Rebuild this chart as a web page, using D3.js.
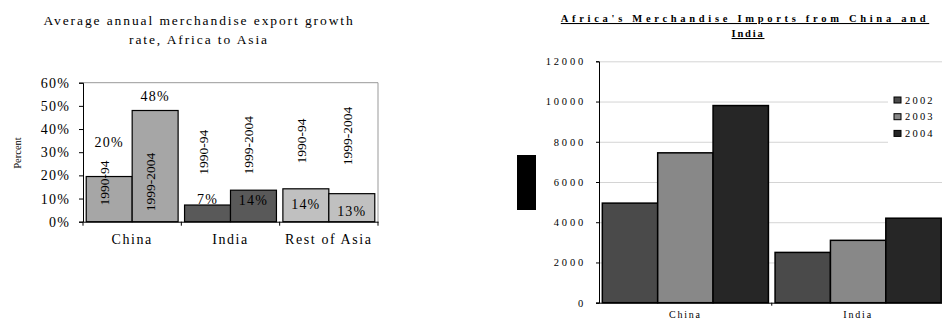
<!DOCTYPE html>
<html>
<head>
<meta charset="utf-8">
<script src="https://cdn.jsdelivr.net/npm/d3@7"></script>
<style>
  body { margin: 0; background: #fff; }
  svg { display: block; }
  text { font-family: 'Liberation Serif', 'Times New Roman', serif; fill: #000; }
</style>
</head>
<body>
<div id="chart"></div>
<script>
// left chart data: export growth, Africa to Asia (percent)
const regions = ['China', 'India', 'Rest of Asia']
const periods = ['1990-94', '1999-2004']
const growth9094 = [19.5, 7.2, 14.2]
const growth9904 = [48, 13.6, 12.1]
const growthLabels9094 = ['20%', '7%', '14%']
const growthLabels9904 = ['48%', '14%', '13%']
const growthTicks = [0, 10, 20, 30, 40, 50, 60]

// right chart data: imports from China and India
const partners = ['China', 'India']
const years = ['2002', '2003', '2004']
const imports2002 = [4950, 2500]
const imports2003 = [7450, 3100]
const imports2004 = [9800, 4200]
const importTicks = [0, 2000, 4000, 6000, 8000, 10000, 12000]

const svg = d3
  .select('#chart')
  .append('svg')
  .attr('width', 942)
  .attr('height', 321)

/* ---------- left chart ---------- */
const left = { x0: 83, x1: 378, y0: 82.7, y1: 221.7 }

const regionScale = d3.scaleBand().domain(regions).range([left.x0, left.x1])
const periodScale = d3
  .scaleBand()
  .domain(periods)
  .range([0, regionScale.bandwidth()])
  .paddingOuter(0.07)
const growthScale = d3.scaleLinear().domain([0, 60]).range([left.y1, left.y0])
const regionColor = d3.scaleOrdinal().domain(regions).range(['#a6a6a6', '#595959', '#c0c0c0'])

const growthRows = []
regions.forEach((r, i) => {
  growthRows.push({ region: r, period: periods[0], value: growth9094[i], label: growthLabels9094[i] })
  growthRows.push({ region: r, period: periods[1], value: growth9904[i], label: growthLabels9904[i] })
})

// where the hand-placed labels sit, in percent units
const valueLabelAt = [34.4, 54.2, 9.8, 9.4, 7.6, 4.6]
const periodLabelAt = [16.7, 17.1, 30, 33, 34.8, 37]

const gl = svg.append('g')

gl.append('text')
  .attr('x', 199)
  .attr('y', 25)
  .attr('text-anchor', 'middle')
  .style('font-size', '13.5px')
  .style('letter-spacing', '1.9px')
  .text('Average annual merchandise export growth')
gl.append('text')
  .attr('x', 199)
  .attr('y', 44)
  .attr('text-anchor', 'middle')
  .style('font-size', '13.5px')
  .style('letter-spacing', '1.9px')
  .text('rate, Africa to Asia')

// frame top and right
gl.append('path')
  .attr('d', `M${left.x0},${left.y0}H${left.x1}V${left.y1}`)
  .attr('fill', 'none')
  .attr('stroke', '#999')

gl.selectAll('rect.bar')
  .data(growthRows)
  .enter()
  .append('rect')
  .attr('class', 'bar')
  .attr('x', d => regionScale(d.region) + periodScale(d.period))
  .attr('y', d => growthScale(d.value))
  .attr('width', periodScale.bandwidth())
  .attr('height', d => growthScale(0) - growthScale(d.value))
  .attr('fill', d => regionColor(d.region))
  .attr('stroke', '#000')
  .attr('stroke-width', 1.2)

gl.selectAll('text.val')
  .data(growthRows)
  .enter()
  .append('text')
  .attr('class', 'val')
  .attr('x', d => regionScale(d.region) + periodScale(d.period) + periodScale.bandwidth() / 2)
  .attr('y', (d, i) => growthScale(valueLabelAt[i]) + 5)
  .attr('text-anchor', 'middle')
  .style('font-size', '14px')
  .style('letter-spacing', '1.2px')
  .text(d => d.label)

gl.selectAll('text.per')
  .data(growthRows)
  .enter()
  .append('text')
  .attr('class', 'per')
  .attr('transform', (d, i) => {
    const x = regionScale(d.region) + periodScale(d.period) + periodScale.bandwidth() / 2
    return `translate(${x},${growthScale(periodLabelAt[i])}) rotate(-90)`
  })
  .attr('text-anchor', 'middle')
  .style('font-size', '13.5px')
  .text(d => d.period)

const growthAxis = d3
  .axisLeft(growthScale)
  .tickValues(growthTicks)
  .tickSize(4)
  .tickPadding(9)
  .tickFormat(d => d + '%')

gl.append('g')
  .attr('transform', `translate(${left.x0},0)`)
  .call(growthAxis)
  .call(g => g.selectAll('text').style('font-size', '14px').style('letter-spacing', '1.2px').attr('font-family', null))

const regionAxis = d3.axisBottom(regionScale).tickSize(0).tickPadding(12)
gl.append('g')
  .attr('transform', `translate(0,${left.y1})`)
  .call(regionAxis)
  .call(g => g.selectAll('text').style('font-size', '14px').style('letter-spacing', '1.6px').attr('font-family', null))

// group separators on the category axis
gl.selectAll('line.sep')
  .data(regions.concat(['end']))
  .enter()
  .append('line')
  .attr('class', 'sep')
  .attr('x1', (d, i) => left.x0 + i * regionScale.step())
  .attr('x2', (d, i) => left.x0 + i * regionScale.step())
  .attr('y1', left.y1)
  .attr('y2', left.y1 + 4)
  .attr('stroke', '#000')

gl.append('text')
  .attr('transform', `translate(21,153) rotate(-90)`)
  .attr('text-anchor', 'middle')
  .style('font-size', '10.5px')
  .text('Percent')

/* ---------- right chart ---------- */
const right = { x0: 599, x1: 944.5, y0: 61.3, y1: 302.7 }

const partnerScale = d3.scaleBand().domain(partners).range([right.x0, right.x1])
const yearScale = d3
  .scaleBand()
  .domain(years)
  .range([0, partnerScale.bandwidth()])
  .paddingOuter(0.06)
const importScale = d3.scaleLinear().domain([0, 12000]).range([right.y1, right.y0])
const yearColor = d3.scaleOrdinal().domain(years).range(['#4a4a4a', '#888888', '#262626'])

const importRows = []
partners.forEach((p, i) => {
  importRows.push({ partner: p, year: years[0], value: imports2002[i] })
  importRows.push({ partner: p, year: years[1], value: imports2003[i] })
  importRows.push({ partner: p, year: years[2], value: imports2004[i] })
})

const gr = svg.append('g')

gr.append('text')
  .attr('x', 745)
  .attr('y', 22)
  .attr('text-anchor', 'middle')
  .style('font-size', '10.5px')
  .style('font-weight', 'bold')
  .style('letter-spacing', '3.7px')
  .style('text-decoration', 'underline')
  .text("Africa's Merchandise Imports from China and")
gr.append('text')
  .attr('x', 748)
  .attr('y', 37)
  .attr('text-anchor', 'middle')
  .style('font-size', '10.5px')
  .style('font-weight', 'bold')
  .style('letter-spacing', '1.8px')
  .style('text-decoration', 'underline')
  .text('India')

const importGrid = d3
  .axisLeft(importScale)
  .tickValues(importTicks.slice(1))
  .tickSize(-(942 - right.x0))
  .tickFormat('')

gr.append('g')
  .attr('transform', `translate(${right.x0},0)`)
  .call(importGrid)
  .call(g => g.select('.domain').remove())
  .call(g => g.selectAll('line').attr('stroke', '#d4d4d4'))

gr.selectAll('rect.bar')
  .data(importRows)
  .enter()
  .append('rect')
  .attr('class', 'bar')
  .attr('x', d => partnerScale(d.partner) + yearScale(d.year))
  .attr('y', d => importScale(d.value))
  .attr('width', yearScale.bandwidth())
  .attr('height', d => importScale(0) - importScale(d.value))
  .attr('fill', d => yearColor(d.year))
  .attr('stroke', '#000')
  .attr('stroke-width', 1.5)

const importAxis = d3
  .axisLeft(importScale)
  .tickValues(importTicks)
  .tickSize(3)
  .tickPadding(10)
  .tickFormat(d3.format('d'))

gr.append('g')
  .attr('transform', `translate(${right.x0},0)`)
  .call(importAxis)
  .call(g => g.selectAll('text').style('font-size', '10.5px').style('letter-spacing', '2.8px').attr('font-family', null))

const partnerAxis = d3.axisBottom(partnerScale).tickSize(0).tickPadding(8)
gr.append('g')
  .attr('transform', `translate(0,${right.y1})`)
  .call(partnerAxis)
  .call(g => g.select('.domain').attr('d', `M${right.x0 - 3},0.5H942`))
  .call(g => g.selectAll('text').style('font-size', '10px').style('letter-spacing', '1.8px').attr('font-family', null))

gr.append('line')
  .attr('x1', partnerScale('India'))
  .attr('x2', partnerScale('India'))
  .attr('y1', right.y1)
  .attr('y2', right.y1 + 3)
  .attr('stroke', '#000')

// y axis title box
gr.append('rect')
  .attr('x', 517)
  .attr('y', 155)
  .attr('width', 19)
  .attr('height', 55)
  .attr('fill', '#000')

// legend
const legend = gr.append('g').attr('transform', 'translate(888,91)')
legend.append('rect')
  .attr('width', 60)
  .attr('height', 52)
  .attr('fill', '#fff')

const legendRows = legend
  .selectAll('g.item')
  .data(years)
  .enter()
  .append('g')
  .attr('class', 'item')
  .attr('transform', (d, i) => `translate(6,${9 + i * 16.7})`)

legendRows.append('rect')
  .attr('x', 0)
  .attr('y', -3)
  .attr('width', 7)
  .attr('height', 6)
  .attr('fill', d => yearColor(d))
  .attr('stroke', '#000')
  .attr('stroke-width', 1)

legendRows.append('text')
  .attr('x', 11)
  .attr('y', 3.5)
  .style('font-size', '10.5px')
  .style('letter-spacing', '2.2px')
  .text(d => d)
</script>
</body>
</html>
